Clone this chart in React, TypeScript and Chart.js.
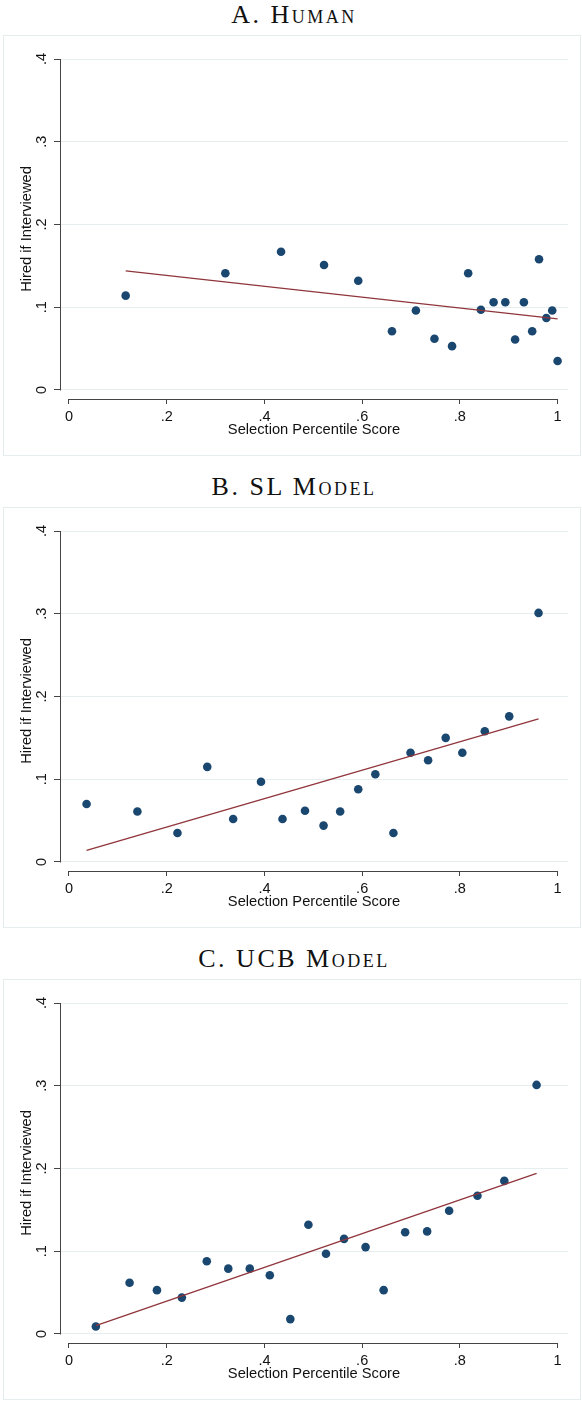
import React, { useEffect, useRef } from "react";
import { Chart, registerables } from "chart.js";

Chart.register(...registerables);

// Axis ticks shared by all three panels
const xTicks = [0, 0.2, 0.4, 0.6, 0.8, 1];
const xTickLabels = ["0", ".2", ".4", ".6", ".8", "1"];
const yTicks = [0, 0.1, 0.2, 0.3, 0.4];
const yTickLabels = ["0", ".1", ".2", ".3", ".4"];

const xTitle = "Selection Percentile Score";
const yTitle = "Hired if Interviewed";

// Panel A: human screeners
const humanScore = [0.116, 0.32, 0.434, 0.522, 0.592, 0.661, 0.71, 0.748, 0.784, 0.817, 0.843, 0.869, 0.893, 0.913, 0.931, 0.948, 0.962, 0.977, 0.989, 1.0];
const humanHired = [0.114, 0.141, 0.167, 0.151, 0.132, 0.071, 0.096, 0.062, 0.053, 0.141, 0.097, 0.106, 0.106, 0.061, 0.106, 0.071, 0.158, 0.087, 0.096, 0.035];
const humanFitScore = [0.116, 1.0];
const humanFitHired = [0.144, 0.086];

// Panel B: supervised learning model
const slScore = [0.036, 0.14, 0.222, 0.283, 0.336, 0.393, 0.437, 0.483, 0.521, 0.555, 0.592, 0.627, 0.664, 0.699, 0.735, 0.771, 0.805, 0.851, 0.901, 0.961];
const slHired = [0.07, 0.061, 0.035, 0.115, 0.052, 0.097, 0.052, 0.062, 0.044, 0.061, 0.088, 0.106, 0.035, 0.132, 0.123, 0.15, 0.132, 0.158, 0.176, 0.301];
const slFitScore = [0.036, 0.961];
const slFitHired = [0.014, 0.173];

// Panel C: UCB model
const ucbScore = [0.055, 0.124, 0.18, 0.231, 0.282, 0.326, 0.37, 0.411, 0.453, 0.49, 0.526, 0.563, 0.607, 0.644, 0.688, 0.733, 0.778, 0.836, 0.891, 0.957];
const ucbHired = [0.009, 0.062, 0.053, 0.044, 0.088, 0.079, 0.079, 0.071, 0.018, 0.132, 0.097, 0.115, 0.105, 0.053, 0.123, 0.124, 0.149, 0.167, 0.185, 0.301];
const ucbFitScore = [0.055, 0.957];
const ucbFitHired = [0.01, 0.194];

const MARKER = "#1a476f";
const FIT = "#90353b";
const AXIS = "#444444";
const GRID = "#e6eeef";
const FRAME = "#e4ecee";
const SANS = "'Liberation Sans', Arial, Helvetica, sans-serif";

const CANVAS_W = 576;
const CANVAS_H = 419;

// Stata-style axis lines: y from 0 to .4, x from 0 to 1, offset below the plot
const axisLines = {
  id: "axisLines",
  beforeDatasetsDraw(chart: any) {
    const { ctx, chartArea, scales } = chart;
    const x = scales.x;
    const y = scales.y;
    ctx.save();
    ctx.strokeStyle = AXIS;
    ctx.lineWidth = 1;
    ctx.beginPath();
    const ax = Math.round(chartArea.left) + 0.5;
    ctx.moveTo(ax, y.getPixelForValue(yTicks[yTicks.length - 1]));
    ctx.lineTo(ax, y.getPixelForValue(yTicks[0]) + 0.5);
    const ay = Math.round(chartArea.bottom) + 0.5;
    ctx.moveTo(x.getPixelForValue(xTicks[0]), ay);
    ctx.lineTo(x.getPixelForValue(xTicks[xTicks.length - 1]) + 0.5, ay);
    ctx.stroke();
    ctx.restore();
  },
};

type PanelProps = {
  top: number;
  title: string;
  score: number[];
  hired: number[];
  fitScore: number[];
  fitHired: number[];
};

function Panel({ top, title, score, hired, fitScore, fitHired }: PanelProps) {
  const ref = useRef<HTMLCanvasElement>(null);

  useEffect(() => {
    const canvas = ref.current;
    if (!canvas) return;
    const chart = new Chart(canvas, {
      type: "scatter",
      data: {
        datasets: [
          {
            label: "Fitted values",
            data: fitScore.map((s, i) => ({ x: s, y: fitHired[i] })),
            showLine: true,
            borderColor: FIT,
            borderWidth: 1.3,
            pointRadius: 0,
            pointHoverRadius: 0,
            fill: false,
          },
          {
            label: yTitle,
            data: score.map((s, i) => ({ x: s, y: hired[i] })),
            backgroundColor: MARKER,
            borderWidth: 0,
            pointRadius: 4.3,
            pointHoverRadius: 4.3,
          },
        ],
      },
      options: {
        responsive: false,
        animation: false,
        events: [],
        layout: { padding: { left: 0, top: 23, right: 12, bottom: 0 } },
        plugins: {
          legend: { display: false },
          tooltip: { enabled: false },
        },
        scales: {
          x: {
            type: "linear",
            min: -0.0184,
            max: 1.0213,
            afterFit: (s: any) => {
              s.height = 56;
            },
            afterBuildTicks: (s: any) => {
              s.ticks = xTicks.map((v) => ({ value: v }));
            },
            border: { display: false },
            grid: {
              drawOnChartArea: false,
              drawTicks: true,
              tickLength: 5,
              tickColor: AXIS,
              color: AXIS,
            },
            ticks: {
              autoSkip: false,
              maxRotation: 0,
              padding: 4,
              color: "#111",
              font: { family: SANS, size: 14.5 },
              callback: (_v: any, i: number) => xTickLabels[i],
            },
            title: {
              display: true,
              text: xTitle,
              color: "#111",
              font: { family: SANS, size: 14.7 },
              padding: { top: 0, bottom: 16 },
            },
          },
          y: {
            type: "linear",
            min: -0.01088,
            max: 0.4,
            afterFit: (s: any) => {
              s.width = 56;
            },
            afterBuildTicks: (s: any) => {
              s.ticks = yTicks.map((v) => ({ value: v }));
            },
            border: { display: false },
            grid: {
              drawOnChartArea: true,
              drawTicks: true,
              tickLength: 6,
              tickColor: AXIS,
              color: GRID,
              lineWidth: 1,
            },
            ticks: {
              autoSkip: false,
              minRotation: 90,
              maxRotation: 90,
              crossAlign: "center",
              padding: 6,
              color: "#111",
              font: { family: SANS, size: 14.5 },
              callback: (_v: any, i: number) => yTickLabels[i],
            },
            title: {
              display: true,
              text: yTitle,
              color: "#111",
              font: { family: SANS, size: 14.7 },
              padding: { top: 14, bottom: 0 },
            },
          },
        },
      } as any,
      plugins: [axisLines],
    });
    return () => chart.destroy();
  }, [score, hired, fitScore, fitHired]);

  return (
    <div style={{ position: "absolute", left: 0, top, width: 582, height: 472 }}>
      <div
        style={{
          position: "absolute",
          left: 3,
          top: 0,
          width: 582,
          height: 30,
          lineHeight: "30px",
          textAlign: "center",
          fontFamily: "'Liberation Serif', 'Times New Roman', serif",
          fontSize: 26,
          fontVariant: "small-caps",
          letterSpacing: 2.5,
          color: "#111",
          whiteSpace: "nowrap",
        }}
      >
        {title}
      </div>
      <div
        style={{
          position: "absolute",
          left: 3,
          top: 35,
          width: CANVAS_W,
          height: CANVAS_H,
          border: `1px solid ${FRAME}`,
          background: "#fff",
        }}
      >
        <canvas ref={ref} width={CANVAS_W} height={CANVAS_H} style={{ display: "block" }} />
      </div>
    </div>
  );
}

export default function App() {
  return (
    <div
      style={{
        position: "absolute",
        left: 0,
        top: 0,
        width: 582,
        height: 1401,
        background: "#fff",
        overflow: "hidden",
      }}
    >
      <Panel top={0} title="A. Human" score={humanScore} hired={humanHired} fitScore={humanFitScore} fitHired={humanFitHired} />
      <Panel top={472} title="B. SL Model" score={slScore} hired={slHired} fitScore={slFitScore} fitHired={slFitHired} />
      <Panel top={944} title="C. UCB Model" score={ucbScore} hired={ucbHired} fitScore={ucbFitScore} fitHired={ucbFitHired} />
    </div>
  );
}
